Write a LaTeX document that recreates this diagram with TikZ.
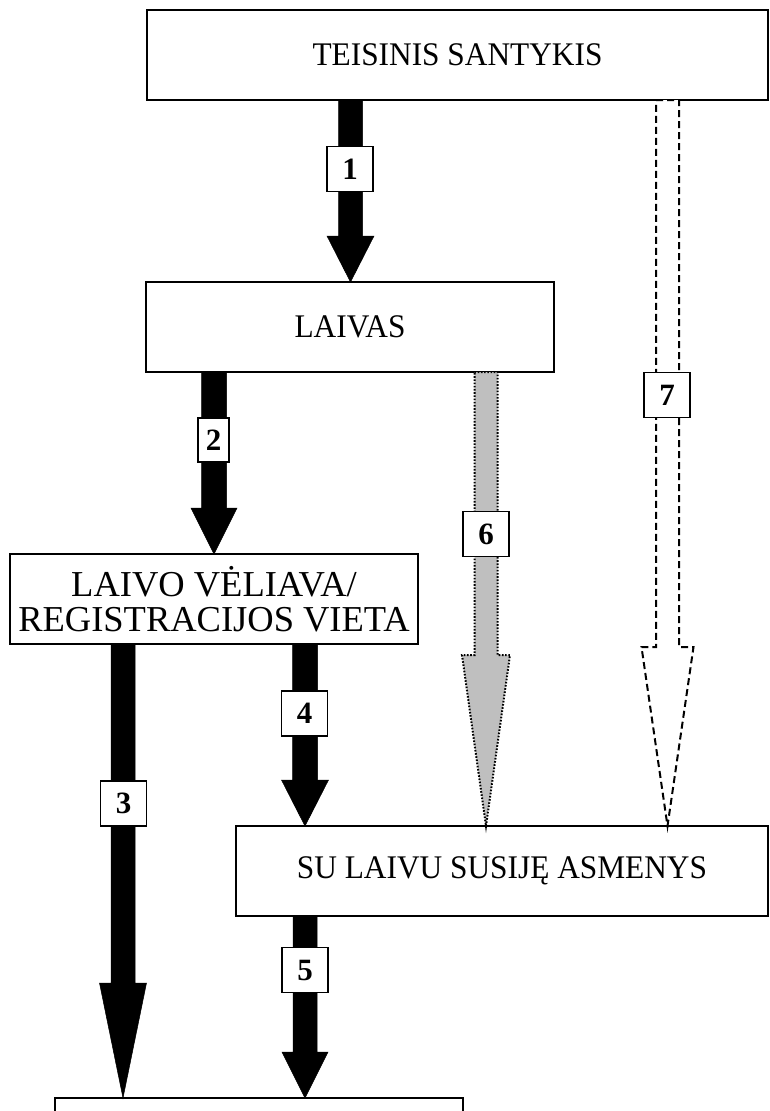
\documentclass[tikz,border=0pt]{standalone}
\usepackage{fontspec}
\setmainfont{Liberation Serif}
\newfontfamily\condserif[FakeStretch=0.95]{Liberation Serif}
\begin{document}
\begin{tikzpicture}[x=1pt,y=-1pt,
  box/.style={draw, line width=1.5pt, fill=white, inner sep=0pt, align=center,
    font=\condserif\fontsize{33}{35}\selectfont},
  bigtext/.style={font=\fontsize{36.5}{35}\selectfont},
  numbox/.style={draw, line width=1.3pt, fill=white, inner sep=0pt,
    minimum width=46pt, minimum height=45pt, font=\fontsize{31}{35}\selectfont\bfseries},
  solidarrow/.style={fill=black, draw=black, line width=0.5pt},
  grayarrow/.style={fill=black!25, draw=black, line width=2pt, dash pattern=on 1.6pt off 1.6pt},
  dasharrow/.style={fill=white, draw=black, line width=2pt, dash pattern=on 7pt off 4pt}]
\newcommand\blockarrow[7]{% style, cx, ytop, yhead, ytip, shaft half, head half
  \path[#1] (#2-#6,#3) -- (#2+#6,#3) -- (#2+#6,#4) -- (#2+#7,#4) -- (#2,#5)
     -- (#2-#7,#4) -- (#2-#6,#4) -- cycle;}
\useasboundingbox (0,0) rectangle (770,1111);
\clip (0,0) rectangle (770,1111);
% boxes
\node[box, minimum width=621pt, minimum height=90pt] (top) at (457.5,55) {TEISINIS SANTYKIS};
\node[box, minimum width=408pt, minimum height=90pt] (laivas) at (350,327) {LAIVAS};
\node[box, bigtext, minimum width=408pt, minimum height=90pt] (veliava) at (214,599) {LAIVO VĖLIAVA/\\REGISTRACIJOS VIETA};
\node[box, minimum width=532pt, minimum height=90pt] (asmenys) at (502,871) {SU LAIVU SUSIJĘ ASMENYS};
\node[box, minimum width=408pt, minimum height=90pt] (bottom) at (259,1143) {};
% arrows
\blockarrow{solidarrow}{350.5}{100}{236}{282}{12}{23.5}
\blockarrow{solidarrow}{214}{372}{508}{554}{12.5}{23}
\blockarrow{solidarrow}{123}{644}{983}{1098}{12}{23.5}
\blockarrow{solidarrow}{305}{644}{780}{826}{12.5}{23.5}
\blockarrow{solidarrow}{305}{916}{1052}{1098}{12}{23}
\blockarrow{grayarrow}{486}{372}{655}{826}{11.5}{24}
\blockarrow{dasharrow}{667.5}{100}{647}{826}{11.5}{26}
% labels
\node[numbox] (n1) at (350,169) {1};
\node[numbox, minimum width=31pt, minimum height=44pt] (n2) at (213.5,440) {2};
\node[numbox] (n3) at (123.5,803.5) {3};
\node[numbox] (n4) at (304.5,713.5) {4};
\node[numbox] (n5) at (305,970) {5};
\node[numbox] (n6) at (486,534) {6};
\node[numbox] (n7) at (667,395) {7};
\end{tikzpicture}
\end{document}
